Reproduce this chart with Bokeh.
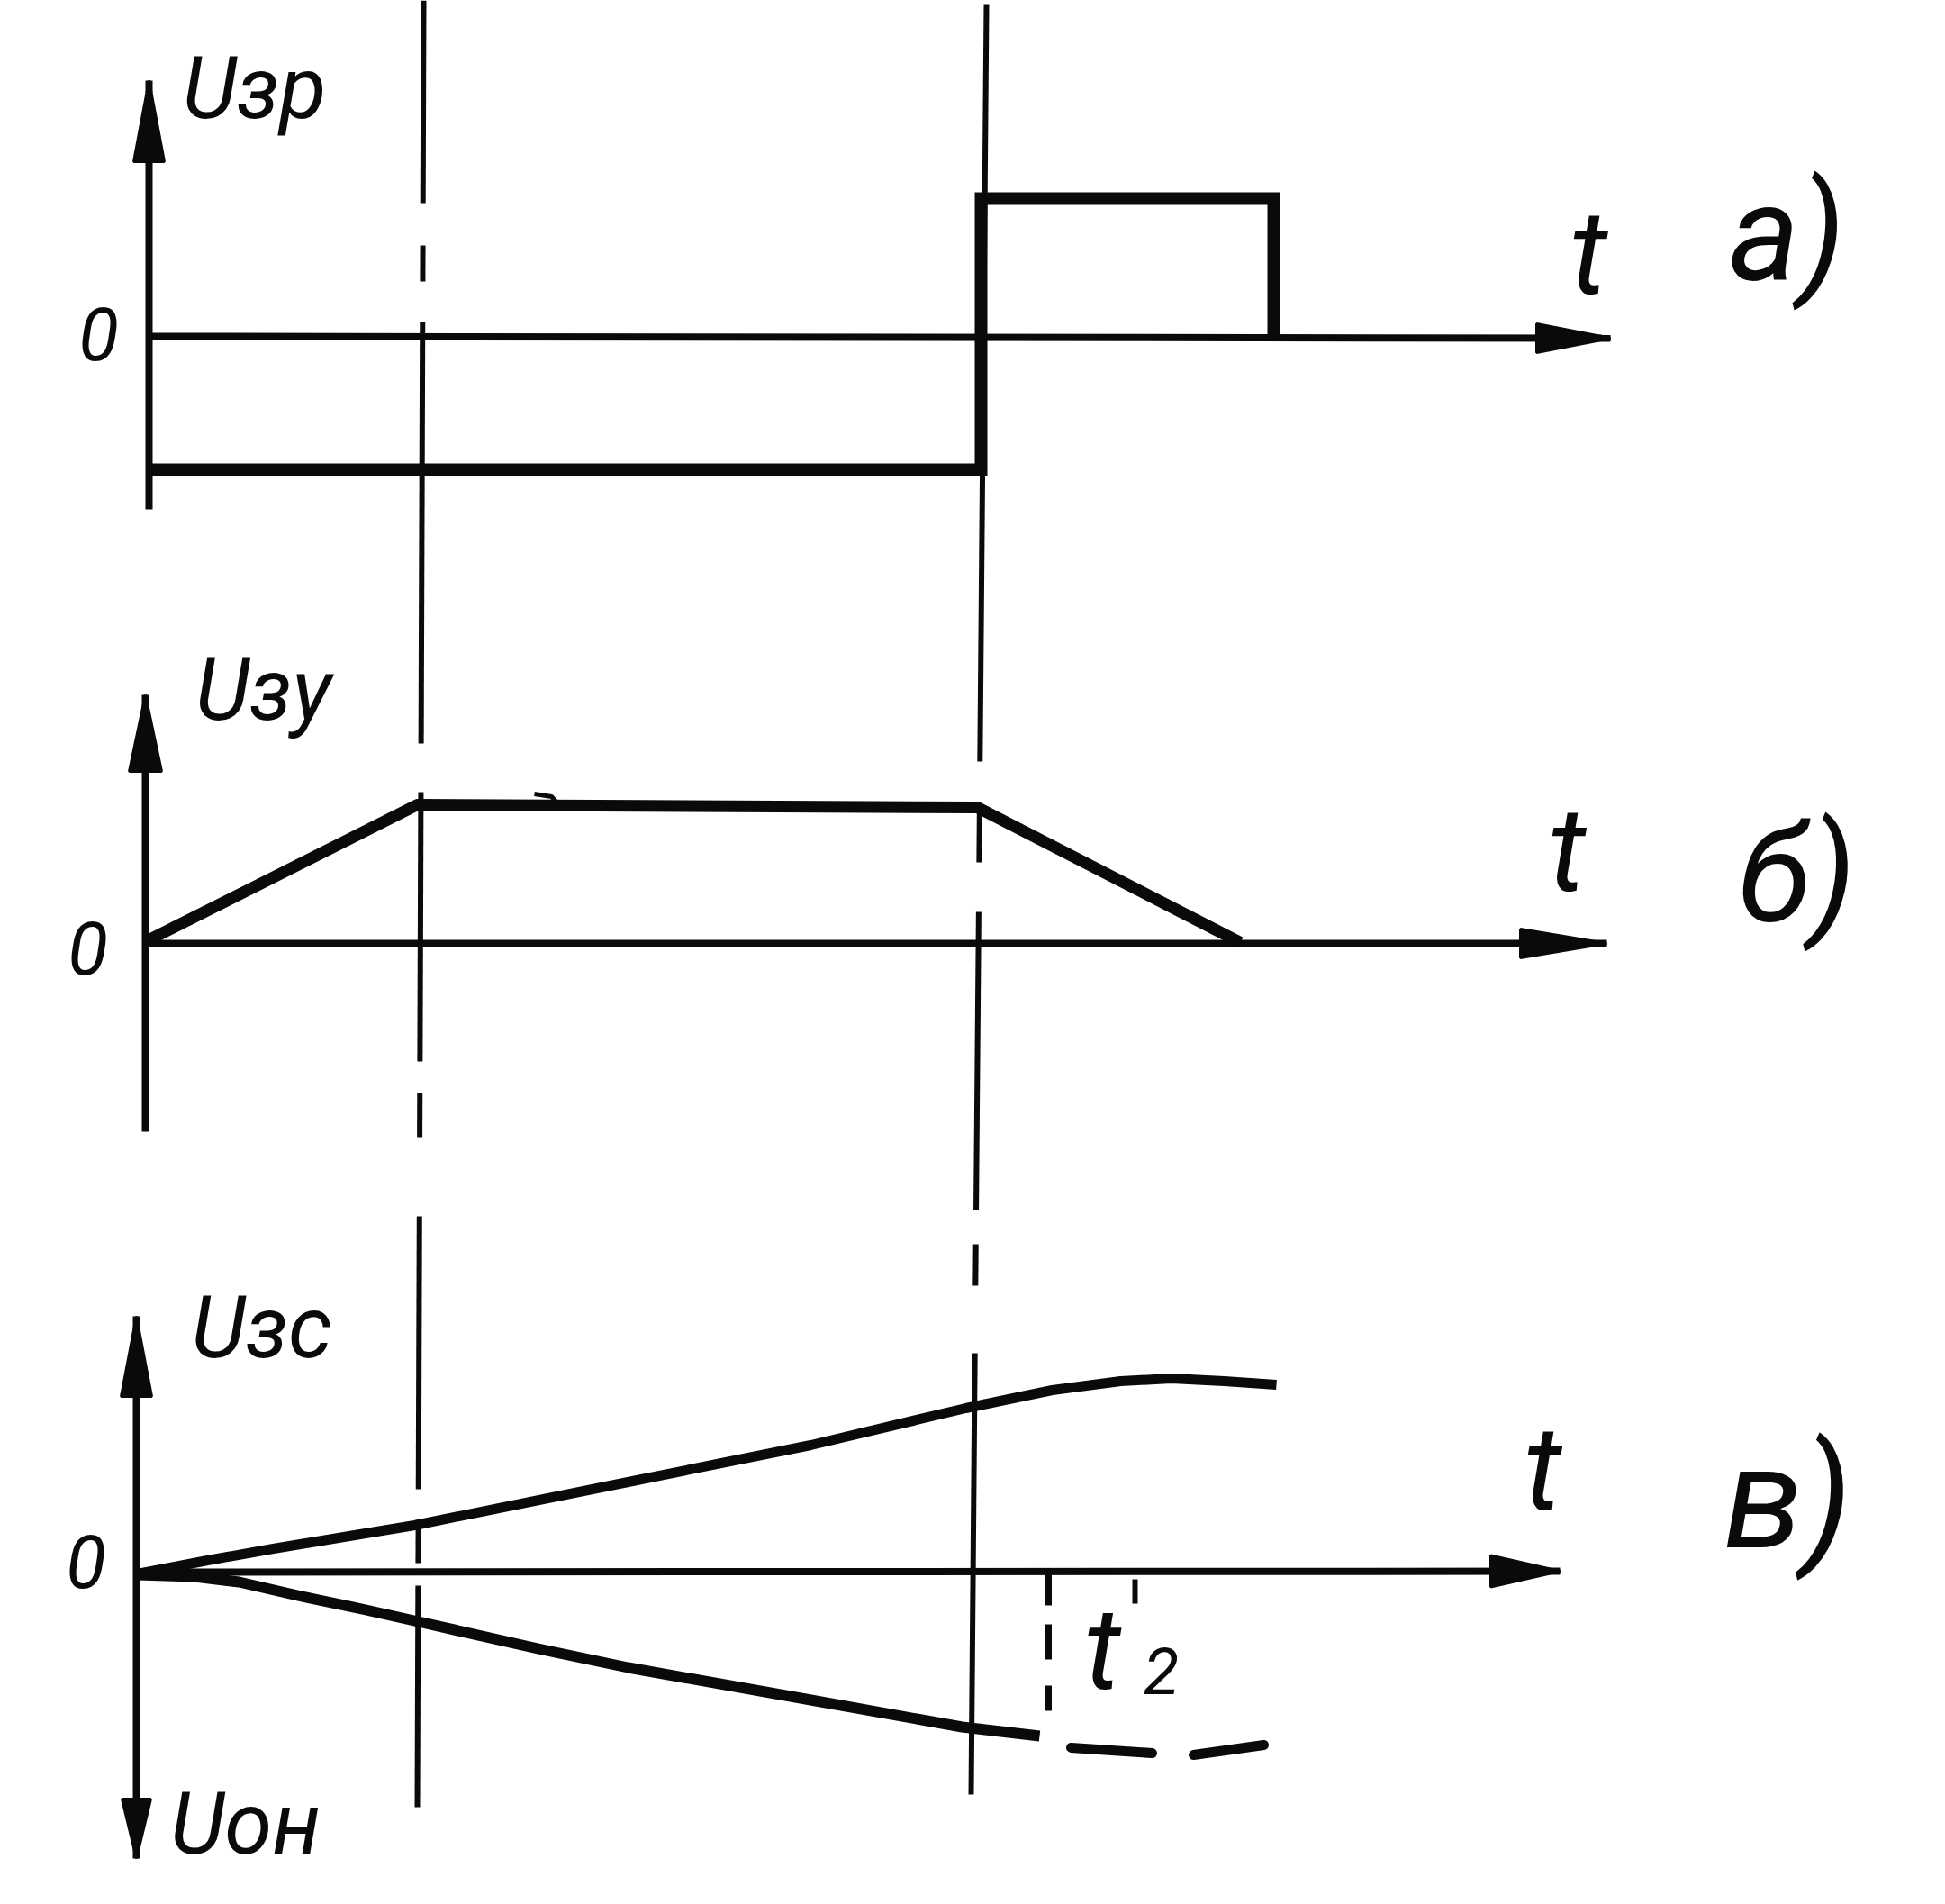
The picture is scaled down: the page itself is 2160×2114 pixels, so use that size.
from bokeh.plotting import figure
from bokeh.models import Range1d
from bokeh.core.properties import value
from bokeh.embed import file_html
from bokeh.resources import INLINE

# ---------------- data (diagram coordinates, image pixels) ----------------
# panel a) U_зр : rectangular control voltage
a_sig_x = [165, 1089, 1089, 1414, 1414]
a_sig_y = [521, 521, 220, 220, 373]
a_axis_v = [(165, 565), (165, 89)]
a_axis_h = [(165, 373), (1788, 375)]

# panel б) U_зу : trapezoid
b_sig_x = [161, 463, 1085, 1377]
b_sig_y = [1045, 893, 896, 1046]
b_hook_x = [593, 612, 620]
b_hook_y = [881, 884, 893]
b_axis_v = [(161, 1256), (161, 771)]
b_axis_h = [(161, 1047), (1784, 1047)]

# panel в) U_зс (upper) and U_он (lower)
c_up_x = [152, 230, 303, 460, 697, 900, 1072, 1168, 1244, 1300, 1359, 1417]
c_up_y = [1747, 1732, 1719, 1693, 1645, 1604, 1563, 1543, 1533, 1530, 1533, 1537]
c_lo_x = [152, 215, 265, 330, 406, 464, 597, 697, 900, 1068, 1154]
c_lo_y = [1748, 1750, 1756, 1771, 1787, 1800, 1830, 1851, 1887, 1917, 1927]
c_lo_dash_x = [[1189, 1279], [1325, 1403]]
c_lo_dash_y = [[1940, 1946], [1948, 1937]]
c_axis_v = [(151, 2063), (151, 1461)]
c_axis_h = [(151, 1745), (1732, 1744)]
t2_marker_x = 1164
t2_marker_segs = [(1746, 1782), (1803, 1842), (1871, 1899)]
t2_prime = [(1260, 1753), (1260, 1780)]

# long vertical dashed guide lines: (x_top, x_bottom, y_top, y_bottom, segments)
guide1 = (470, 463, 0, 2006,
          [(0, 225), (272, 312), (357, 825), (879, 1178), (1213, 1262),
           (1350, 1653), (1687, 1735), (1760, 2006)])
guide2 = (1095, 1078, 4, 1992,
          [(4, 845), (901, 957), (1012, 1343), (1381, 1427), (1502, 1992)])

# labels: (text, x, y, size)
axis_labels = [("Uзр", 282, 97, 96), ("Uзу", 292, 765, 96),
               ("Uзс", 290, 1473, 96), ("Uон", 272, 2024, 96)]
zero_labels = [("0", 109, 370, 82), ("0", 97, 1052, 82), ("0", 95, 1733, 82)]
t_labels = [("t", 1764, 280, 132), ("t", 1740, 943, 132), ("t", 1713, 1630, 132)]
panel_labels = [("а)", 1984, 258, 150), ("б)", 1995, 970, 150), ("в)", 1985, 1663, 160)]
t2_labels = [("t", 1224, 1830, 128), ("2", 1289, 1854, 72)]

# arrow heads: (tip, base-centre, width)
heads = [((165, 89), (165, 179), 34), ((1788, 375), (1706, 375), 32),
         ((161, 771), (161, 856), 36), ((1784, 1047), (1688, 1047), 32),
         ((151, 1461), (151, 1550), 34), ((1732, 1744), (1655, 1744), 35),
         ((151, 2063), (151, 1997), 32)]

# ---------------- figure ----------------
p = figure(width=2144, height=2098, x_range=Range1d(0, 2144), y_range=Range1d(2098, 0),
           output_backend="svg", toolbar_location=None, x_axis_type=None,
           y_axis_type=None, min_border=0)
p.grid.visible = False
p.outline_line_color = None
p.background_fill_color = "white"
p.border_fill_color = "white"

INK = "#0a0a0a"

# axes
for ax in [a_axis_v, a_axis_h, b_axis_v, b_axis_h, c_axis_v, c_axis_h]:
    p.line([ax[0][0], ax[1][0]], [ax[0][1], ax[1][1]], line_color=INK, line_width=8)

# arrow heads
hx, hy = [], []
for (tx, ty), (bx, by), w in heads:
    dx, dy = tx - bx, ty - by
    L = (dx * dx + dy * dy) ** 0.5
    nx, ny = -dy / L, dx / L
    hx.append([tx, bx + nx * w / 2, bx - nx * w / 2])
    hy.append([ty, by + ny * w / 2, by - ny * w / 2])
p.patches(hx, hy, fill_color=INK, line_color=INK, line_width=3)

# guide lines
for xt, xb, yt, yb, segs in [guide1, guide2]:
    xs, ys = [], []
    for y0, y1 in segs:
        f0 = (y0 - yt) / (yb - yt)
        f1 = (y1 - yt) / (yb - yt)
        xs.append([xt + (xb - xt) * f0, xt + (xb - xt) * f1])
        ys.append([y0, y1])
    p.multi_line(xs, ys, line_color=INK, line_width=6)

# signals
p.line(a_sig_x, a_sig_y, line_color=INK, line_width=14, line_join="miter")
p.line(b_sig_x, b_sig_y, line_color=INK, line_width=13, line_join="round")
p.line(b_hook_x, b_hook_y, line_color=INK, line_width=5)
p.line(c_up_x, c_up_y, line_color=INK, line_width=11, line_join="round")
p.line(c_lo_x, c_lo_y, line_color=INK, line_width=12, line_join="round")
p.multi_line(c_lo_dash_x, c_lo_dash_y, line_color=INK, line_width=11, line_cap="round")
p.multi_line([[t2_marker_x, t2_marker_x] for _ in t2_marker_segs],
             [[a, b] for a, b in t2_marker_segs], line_color=INK, line_width=7)
p.line([t2_prime[0][0], t2_prime[1][0]], [t2_prime[0][1], t2_prime[1][1]],
       line_color=INK, line_width=6)

# texts
for group in [axis_labels, zero_labels, t_labels, panel_labels, t2_labels]:
    for txt, x, y, s in group:
        p.text(x=[x], y=[y], text=[txt], text_font=value("Roboto"),
               text_font_style="italic", text_font_size=value(f"{s}px"),
               text_align="center", text_baseline="middle", text_color=INK)

open("out.html", "w").write(file_html(p, INLINE))
